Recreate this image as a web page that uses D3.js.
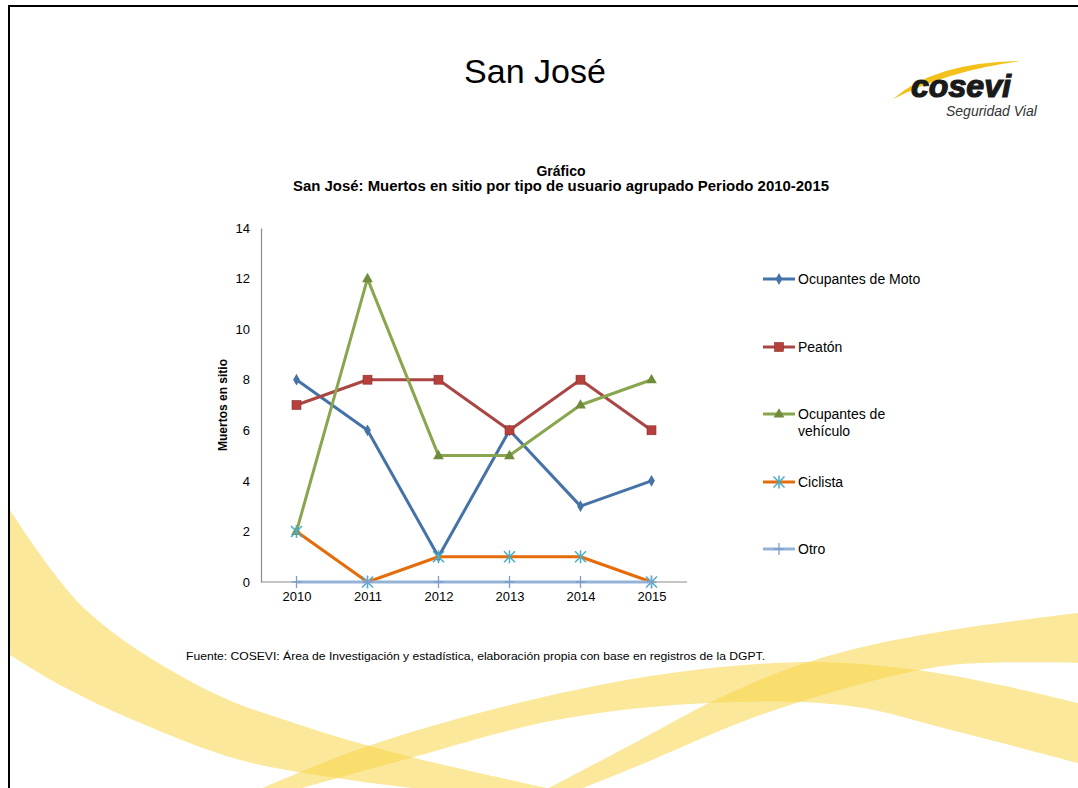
<!DOCTYPE html>
<html>
<head>
<meta charset="utf-8">
<script src="https://cdn.jsdelivr.net/npm/d3@7/dist/d3.min.js"></script>
<style>
  body { margin: 0; background: #fff; }
  svg { display: block; font-family: "Liberation Sans", Arial, sans-serif; }
</style>
</head>
<body>
<div id="chart"></div>
<script>
// data
var years = ["2010", "2011", "2012", "2013", "2014", "2015"];
var seriesNames = ["Ocupantes de Moto", "Peatón", "Ocupantes de vehículo", "Ciclista", "Otro"];
var moto = [8, 6, 1, 6, 3, 4];
var peaton = [7, 8, 8, 6, 8, 6];
var vehiculo = [2, 12, 5, 5, 7, 8];
var ciclista = [2, 0, 1, 1, 1, 0];
var otro = [0, 0, 0, 0, 0, 0];
var yTicks = [0, 2, 4, 6, 8, 10, 12, 14];

var W = 1078, H = 788;

var svg = d3.select("#chart").append("svg")
    .attr("width", W)
    .attr("height", H);

// yellow ribbons in the slide background (decoration only)
var ribbons = [
  { up: [[10,510],[86,610],[207,690],[300,725],[403,755],[556,790]],
    lo: [[430,790],[350,780],[240,760],[138,722],[60,685],[10,655]] },
  { up: [[258,790],[365,747],[518,703],[671,673],[813,662],[917,670],[1000,685],[1078,703]],
    lo: [[1078,763],[951,730],[850,706],[709,703],[556,720],[403,760],[295,790]] },
  { up: [[545,790],[640,740],[709,703],[780,672],[850,650],[951,630],[1078,613]],
    lo: [[1078,663],[951,665],[850,687],[747,720],[640,765],[578,790]] }
];
var edge = d3.line().curve(d3.curveCatmullRom);
var bg = svg.append("g").attr("clip-path", "url(#page)");
svg.append("clipPath").attr("id", "page")
  .append("rect").attr("x", 10).attr("y", 7).attr("width", W - 10).attr("height", H - 7);
ribbons.forEach(function(r){
  bg.append("path")
    .attr("d", edge(r.up) + edge(r.lo).replace("M", "L") + "Z")
    .attr("fill", "#F8D548")
    .attr("fill-opacity", 0.55);
});

// slide frame
svg.append("line").attr("x1", 9).attr("x2", 9).attr("y1", 5).attr("y2", H).attr("stroke", "#000").attr("stroke-width", 2);
svg.append("line").attr("x1", 8).attr("x2", W).attr("y1", 6).attr("y2", 6).attr("stroke", "#000").attr("stroke-width", 2);

// slide title
svg.append("text").attr("x", 535).attr("y", 83)
  .attr("text-anchor", "middle").attr("font-size", 34).attr("fill", "#000")
  .text("San José");

// logo
var logo = svg.append("g");
logo.append("path")
  .attr("d", "M893,99 Q935,62 1021,61 Q950,70 893,99 Z")
  .attr("fill", "#F2C21B");
logo.append("text").attr("x", 911).attr("y", 97)
  .attr("font-size", 31).attr("font-weight", "bold").attr("font-style", "italic")
  .attr("fill", "#1a1a1a").attr("stroke", "#1a1a1a").attr("stroke-width", 1.2)
  .attr("textLength", 100).attr("lengthAdjust", "spacingAndGlyphs")
  .text("cosevi");
logo.append("text").attr("x", 946).attr("y", 116)
  .attr("font-size", 14).attr("font-style", "italic").attr("fill", "#333")
  .text("Seguridad Vial");

// chart title
svg.append("text").attr("x", 561).attr("y", 176)
  .attr("text-anchor", "middle").attr("font-size", 14).attr("font-weight", "bold")
  .text("Gráfico");
svg.append("text").attr("x", 561).attr("y", 191)
  .attr("text-anchor", "middle").attr("font-size", 14).attr("font-weight", "bold")
  .attr("textLength", 536).attr("lengthAdjust", "spacingAndGlyphs")
  .text("San José: Muertos en sitio por tipo de usuario agrupado Periodo 2010-2015");

// scales
var x = d3.scalePoint().domain(years).range([261, 687]).padding(0.5);
var y = d3.scaleLinear().domain([0, 14]).range([582, 228]);

// axes
var yAxis = svg.append("g").attr("transform", "translate(261,0)")
  .call(d3.axisLeft(y).tickValues(yTicks).tickSize(0).tickPadding(11));
var xAxis = svg.append("g").attr("transform", "translate(0,582)")
  .call(d3.axisBottom(x).tickSize(0).tickPadding(10));
[yAxis, xAxis].forEach(function(a){
  a.select(".domain").attr("stroke", "#8c8c8c").attr("stroke-width", 1.2);
  a.selectAll("text").attr("font-size", 13).attr("fill", "#000")
    .attr("font-family", "'Liberation Sans', Arial, sans-serif");
});
xAxis.select(".domain").attr("d", "M261,0H687");

svg.append("text")
  .attr("transform", "translate(227,405) rotate(-90)")
  .attr("text-anchor", "middle").attr("font-size", 12).attr("font-weight", "bold")
  .text("Muertos en sitio");

// series definitions (styles)
var series = [
  { name: seriesNames[0], values: moto, color: "#4572A7", mcolor: "#4572A7", sym: "diamond" },
  { name: seriesNames[1], values: peaton, color: "#AA4643", mcolor: "#B5403C", sym: "square" },
  { name: seriesNames[2], values: vehiculo, color: "#89A54E", mcolor: "#6F8C3A", sym: "triangle" },
  { name: seriesNames[3], values: ciclista, color: "#E46C0A", mcolor: "#4BACC6", sym: "asterisk" },
  { name: seriesNames[4], values: otro, color: "#95B3D7", mcolor: "#7F9CC9", sym: "plus" }
];

function drawMarker(g, sym, cx, cy, color){
  if (sym === "diamond") {
    g.append("path").attr("d", d3.symbol(d3.symbolDiamond, 40)())
      .attr("transform", "translate(" + cx + "," + cy + ")").attr("fill", color);
  } else if (sym === "square") {
    g.append("rect").attr("x", cx - 4.5).attr("y", cy - 4.5).attr("width", 9).attr("height", 9)
      .attr("fill", color).attr("stroke", "#8E2F2C").attr("stroke-width", 0.6);
  } else if (sym === "triangle") {
    g.append("path").attr("d", d3.symbol(d3.symbolTriangle, 50)())
      .attr("transform", "translate(" + cx + "," + (cy + 0.5) + ")").attr("fill", color);
  } else if (sym === "asterisk") {
    var s = 5.5;
    g.append("path")
      .attr("d", "M" + (cx - s) + "," + (cy - s) + "L" + (cx + s) + "," + (cy + s) +
                 "M" + (cx - s) + "," + (cy + s) + "L" + (cx + s) + "," + (cy - s) +
                 "M" + cx + "," + (cy - s - 1) + "L" + cx + "," + (cy + s + 1))
      .attr("stroke", color).attr("stroke-width", 1.5);
  } else if (sym === "plus") {
    g.append("path")
      .attr("d", "M" + (cx - 5) + "," + cy + "L" + (cx + 5) + "," + cy +
                 "M" + cx + "," + (cy - 6) + "L" + cx + "," + (cy + 6))
      .attr("stroke", color).attr("stroke-width", 1.3);
  }
}

var line = d3.line()
  .x(function(d, i){ return x(years[i]); })
  .y(function(d){ return y(d); });

series.forEach(function(s){
  var g = svg.append("g");
  g.append("path").datum(s.values)
    .attr("d", line)
    .attr("fill", "none")
    .attr("stroke", s.color)
    .attr("stroke-width", 3)
    .attr("stroke-linejoin", "round");
  s.values.forEach(function(v, i){
    drawMarker(g, s.sym, x(years[i]), y(v), s.mcolor);
  });
});

// legend
var legendY = [279, 347, 414, 482, 549];
var legend = svg.append("g");
series.forEach(function(s, i){
  var ly = legendY[i];
  legend.append("line").attr("x1", 763).attr("x2", 795).attr("y1", ly).attr("y2", ly)
    .attr("stroke", s.color).attr("stroke-width", 3);
  drawMarker(legend, s.sym, 779, ly, s.mcolor);
  var t = legend.append("text").attr("x", 798).attr("y", ly + 5)
    .attr("font-size", 14).attr("fill", "#000");
  if (s.name === "Ocupantes de vehículo") {
    t.append("tspan").attr("x", 798).text("Ocupantes de");
    t.append("tspan").attr("x", 798).attr("dy", 17).text("vehículo");
  } else {
    t.text(s.name);
  }
});

// source note
svg.append("text").attr("x", 186).attr("y", 660)
  .attr("font-size", 10.5).attr("fill", "#000")
  .attr("textLength", 579).attr("lengthAdjust", "spacingAndGlyphs")
  .text("Fuente:  COSEVI: Área de Investigación y estadística, elaboración propia con base en registros de la DGPT.");
</script>
</body>
</html>
